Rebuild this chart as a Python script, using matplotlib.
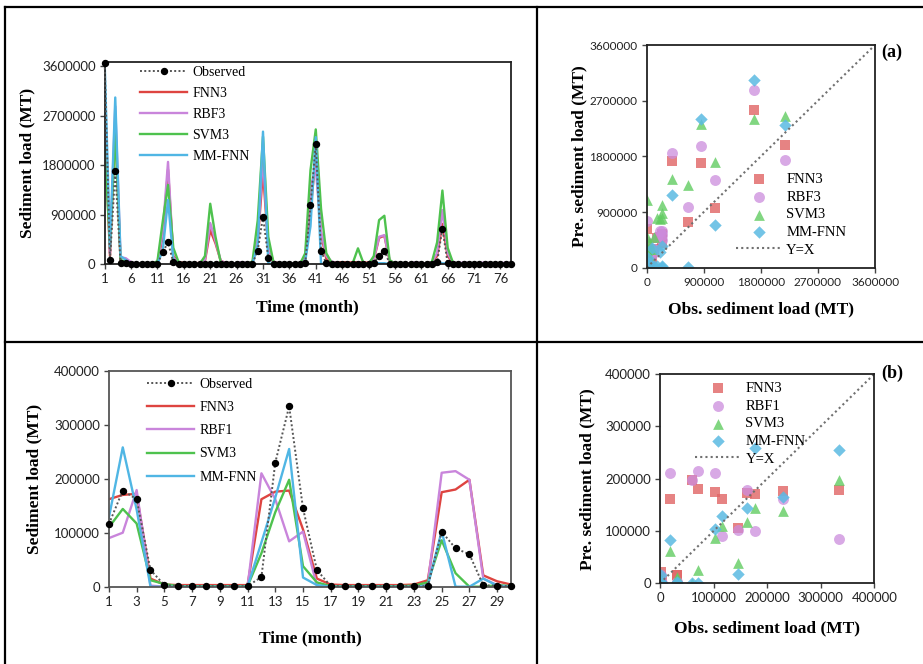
import matplotlib
matplotlib.use('Agg')
import matplotlib.pyplot as plt
from matplotlib.lines import Line2D
import numpy as np

plt.rcParams['font.family'] = ['Lato', 'DejaVu Sans']
serif = 'Liberation Serif'

# ---- data: training period (78 months) ----
months_a = np.arange(1, 79)
obs_a = [3650000, 80000, 1690000, 20000, 15000, 8000, 6000, 5000, 5000, 6000,
         10000, 217000, 399000, 36000, 12000, 8000, 6000, 5000, 5000, 4000,
         3000, 6000, 8000, 5000, 5000, 4000, 5000, 6000, 10000, 248000,
         864000, 121000, 12000, 8000, 6000, 5000, 5000, 6000, 20000, 1075000,
         2180000, 248000, 15000, 8000, 6000, 5000, 5000, 4000, 5000, 5000,
         6000, 20000, 157000, 248000, 12000, 8000, 6000, 5000, 5000, 5000,
         5000, 6000, 8000, 40000, 650000, 15000, 8000, 6000, 5000, 5000,
         5000, 5000, 5000, 5000, 5000, 5000, 5000, 5000]
fnn_a = [2550000, 150000, 2550000, 60000, 30000, 15000, 15000, 15000, 15000, 15000,
         30000, 500000, 1720000, 150000, 40000, 25000, 20000, 20000, 25000, 60000,
         620000, 380000, 60000, 25000, 20000, 20000, 20000, 20000, 30000, 400000,
         1690000, 300000, 40000, 20000, 20000, 20000, 20000, 20000, 80000, 970000,
         1980000, 550000, 100000, 40000, 35000, 35000, 35000, 35000, 35000, 35000,
         30000, 80000, 480000, 520000, 60000, 20000, 20000, 20000, 20000, 20000,
         20000, 20000, 40000, 150000, 733000, 150000, 30000, 15000, 15000, 15000,
         15000, 15000, 15000, 15000, 15000, 15000, 15000, 15000]
rbf_a = [3100000, 200000, 2870000, 130000, 110000, 40000, 10000, 10000, 10000, 10000,
         30000, 600000, 1860000, 120000, 30000, 15000, 15000, 15000, 15000, 80000,
         750000, 420000, 60000, 20000, 20000, 20000, 40000, 20000, 20000, 450000,
         1960000, 300000, 40000, 15000, 15000, 15000, 15000, 15000, 100000, 1410000,
         1740000, 600000, 150000, 50000, 20000, 20000, 20000, 20000, 20000, 20000,
         20000, 100000, 500000, 530000, 70000, 15000, 15000, 15000, 15000, 40000,
         15000, 15000, 40000, 200000, 986000, 200000, 30000, 15000, 35000, 20000,
         20000, 20000, 35000, 20000, 20000, 20000, 30000, 20000]
svm_a = [2160000, 300000, 2410000, 80000, 40000, 5000, 5000, 5000, 5000, 5000,
         60000, 780000, 1440000, 300000, 40000, 5000, 5000, 5000, 5000, 150000,
         1100000, 500000, 30000, 5000, 5000, 5000, 5000, 5000, 50000, 800000,
         2320000, 500000, 30000, 5000, 5000, 5000, 5000, 5000, 200000, 1710000,
         2450000, 1010000, 200000, 30000, 5000, 5000, 5000, 20000, 290000, 30000,
         5000, 150000, 803000, 882000, 80000, 5000, 5000, 5000, 5000, 5000,
         5000, 5000, 40000, 400000, 1340000, 300000, 30000, 5000, 5000, 5000,
         5000, 5000, 5000, 5000, 5000, 5000, 5000, 5000]
mm_a = [3650000, 320000, 3030000, 150000, 80000, 5000, 5000, 5000, 5000, 5000,
        10000, 250000, 1170000, 80000, 5000, 5000, 5000, 5000, 5000, 10000,
        20000, 10000, 20000, 5000, 5000, 5000, 5000, 5000, 10000, 350000,
        2410000, 20000, 5000, 5000, 5000, 5000, 5000, 5000, 50000, 690000,
        2310000, 10000, 5000, 5000, 5000, 5000, 5000, 5000, 5000, 5000,
        5000, 30000, 20000, 20000, 5000, 5000, 5000, 5000, 5000, 5000,
        5000, 5000, 20000, 60000, 16000, 20000, 5000, 5000, 5000, 5000,
        5000, 5000, 5000, 5000, 5000, 5000, 5000, 5000]

# ---- data: testing period (30 months) ----
months_b = np.arange(1, 31)
obs_b = [116000, 178000, 162000, 31000, 3000, 1500, 1000, 1000, 1000, 1000,
         1000, 18000, 230000, 334000, 145000, 31000, 1000, 1000, 1000, 1000,
         1000, 1000, 1000, 1000, 102000, 71000, 60000, 2500, 2000, 500]
fnn_b = [162000, 170000, 172000, 15000, 4000, 3000, 3000, 3000, 3000, 3000,
         3000, 162000, 176000, 178000, 106000, 15000, 4000, 3000, 3000, 3000,
         3000, 3000, 4000, 12000, 175000, 180000, 198000, 21000, 10000, 4000]
rbf_b = [90000, 100000, 179000, 2000, 0, 0, 0, 0, 0, 0,
         0, 210000, 162000, 84000, 102000, 2000, 0, 0, 0, 0,
         0, 0, 0, 5000, 211000, 214000, 198000, 15000, 3000, 0]
svm_b = [110000, 144000, 117000, 12000, 5000, 1000, 1000, 1000, 1000, 1000,
         1000, 62000, 138000, 198000, 38000, 8000, 1000, 1000, 1000, 1000,
         1000, 1000, 2000, 8000, 86000, 25000, 0, 0, 3000, 1000]
mm_b = [128000, 258000, 143000, 0, 0, 0, 0, 0, 0, 0,
        0, 82000, 165000, 255000, 17000, 3000, 0, 0, 0, 0,
        0, 0, 0, 2000, 103000, 0, 0, 15000, 2000, 0]

yticks_a = [0, 900000, 1800000, 2700000, 3600000]
yticks_b = [0, 100000, 200000, 300000, 400000]
xticks_a = list(range(1, 78, 5))
xticks_b = list(range(1, 30, 2))

c_fnn = '#DE4440'
c_rbf = '#C985DB'
c_svm = '#4EC24E'
c_mm = '#50B6E4'
s_fnn = '#E06464'
s_rbf = '#CC8CDD'
s_svm = '#62CC62'
s_mm = '#5ABAE2'

W, H = 923, 664
fig = plt.figure(figsize=(W / 100, H / 100), dpi=100)


def fx(px):
    return px / W


def fy(py):
    return 1 - py / H


def box(ax, color='#222222'):
    for sp in ax.spines.values():
        sp.set_color(color)
        sp.set_linewidth(1.3)
    ax.tick_params(direction='out', length=3.5, width=1, colors='#444444',
                   labelcolor='#222222', labelsize=9.5, pad=3)


def line_panel(ax, m, obs, fnn, rbf, svm, mm, rbf_name):
    h_f, = ax.plot(m, fnn, color=c_fnn, lw=1.7)
    h_r, = ax.plot(m, rbf, color=c_rbf, lw=1.7)
    h_s, = ax.plot(m, svm, color=c_svm, lw=1.7)
    h_m, = ax.plot(m, mm, color=c_mm, lw=1.7)
    h_o, = ax.plot(m, obs, ls=(0, (1, 1.2)), color='#555555', lw=1.4,
                   marker='o', ms=4.3, mfc='black', mec='black', zorder=5,
                   clip_on=False)
    return [h_o, h_f, h_r, h_s, h_m], ['Observed', 'FNN3', rbf_name, 'SVM3', 'MM-FNN']


# ---- top-left: time series (training) ----
ax1 = fig.add_axes([fx(104.7), fy(264.3), fx(511 - 104.7), (264.3 - 61.7) / H])
hs, labs = line_panel(ax1, months_a, obs_a, fnn_a, rbf_a, svm_a, mm_a, 'RBF3')
ax1.set_xlim(1, 78)
ax1.set_ylim(0, 3.68e6)
ax1.set_yticks(yticks_a)
ax1.set_yticklabels([str(v) for v in yticks_a])
ax1.set_xticks(xticks_a)
box(ax1)
ax1.set_xlabel('Time (month)', family=serif, fontsize=12.5, fontweight='bold')
ax1.set_ylabel('Sediment load (MT)', family=serif, fontsize=12.5, fontweight='bold')
ax1.xaxis.set_label_coords(0.5, -0.175)
ax1.yaxis.set_label_coords(-0.17, 0.5)
ax1.legend(hs, labs, loc='upper left', bbox_to_anchor=(fx(140), fy(66)),
           bbox_transform=fig.transFigure, frameon=False,
           prop={'family': serif, 'size': 10}, handlelength=3.4,
           handletextpad=0.35, labelspacing=0.57, borderpad=0, borderaxespad=0)

# ---- bottom-left: time series (testing) ----
ax2 = fig.add_axes([fx(108.9), fy(586.7), fx(511 - 108.9), (586.7 - 370.7) / H])
hs, labs = line_panel(ax2, months_b, obs_b, fnn_b, rbf_b, svm_b, mm_b, 'RBF1')
ax2.set_xlim(1, 30)
ax2.set_ylim(0, 400000)
ax2.set_yticks(yticks_b)
ax2.set_yticklabels([str(v) for v in yticks_b])
ax2.set_xticks(xticks_b)
box(ax2, '#555555')
ax2.set_xlabel('Time (month)', family=serif, fontsize=12.5, fontweight='bold')
ax2.set_ylabel('Sediment load (MT)', family=serif, fontsize=12.5, fontweight='bold')
ax2.xaxis.set_label_coords(0.5, -0.2)
ax2.yaxis.set_label_coords(-0.165, 0.5)
ax2.legend(hs, labs, loc='upper left', bbox_to_anchor=(fx(147), fy(378)),
           bbox_transform=fig.transFigure, frameon=False,
           prop={'family': serif, 'size': 10}, handlelength=3.4,
           handletextpad=0.35, labelspacing=0.73, borderpad=0, borderaxespad=0)


def scatter_panel(ax, obs, fnn, rbf, svm, mm, rbf_name, lim):
    # months whose observed load lies beyond the axis range are not shown
    keep = np.array(obs) <= lim
    o = np.array(obs)[keep]
    h1 = ax.scatter(o, np.array(fnn)[keep], marker='s', s=50, color=s_fnn, alpha=0.8, lw=0, label='FNN3')
    h2 = ax.scatter(o, np.array(rbf)[keep], marker='o', s=62, color=s_rbf, alpha=0.75, lw=0, label=rbf_name)
    h3 = ax.scatter(o, np.array(svm)[keep], marker='^', s=60, color=s_svm, alpha=0.8, lw=0, label='SVM3')
    h4 = ax.scatter(o, np.array(mm)[keep], marker='D', s=40, color=s_mm, alpha=0.85, lw=0, label='MM-FNN')
    h5, = ax.plot([0, lim], [0, lim], ls=(0, (1, 1.5)), color='#707070', lw=1.5, label='Y=X')
    ax.set_xlim(0, lim)
    ax.set_ylim(0, lim)
    return [h1, h2, h3, h4, h5]


# ---- top-right: scatter (training) ----
ax3 = fig.add_axes([fx(646.7), fy(267.7), fx(875 - 646.7), (267.7 - 45) / H])
hs = scatter_panel(ax3, obs_a, fnn_a, rbf_a, svm_a, mm_a, 'RBF3', 3600000)
ax3.set_xticks(yticks_a)
ax3.set_xticklabels([str(v) for v in yticks_a])
ax3.set_yticks(yticks_a)
ax3.set_yticklabels([str(v) for v in yticks_a])
box(ax3)
ax3.tick_params(labelsize=8.5)
ax3.set_xlabel('Obs. sediment load (MT)', family=serif, fontsize=12.5, fontweight='bold')
ax3.set_ylabel('Pre. sediment load (MT)', family=serif, fontsize=12.5, fontweight='bold')
ax3.xaxis.set_label_coords(0.5, -0.15)
ax3.yaxis.set_label_coords(-0.26, 0.5)
ax3.legend(handles=hs, loc='upper left', bbox_to_anchor=(fx(736), fy(173)),
           bbox_transform=fig.transFigure, frameon=False, scatterpoints=1,
           prop={'family': serif, 'size': 10.5}, handlelength=3.1,
           handletextpad=0.35, labelspacing=0.3, borderpad=0, borderaxespad=0)
fig.text(fx(881), fy(52), '(a)', family=serif, fontsize=13, fontweight='bold', va='center')

# ---- bottom-right: scatter (testing) ----
ax4 = fig.add_axes([fx(660), fy(583.3), fx(874.3 - 660), (583.3 - 374) / H])
hs = scatter_panel(ax4, obs_b, fnn_b, rbf_b, svm_b, mm_b, 'RBF1', 400000)
ax4.set_xticks(yticks_b)
ax4.set_xticklabels([str(v) for v in yticks_b])
ax4.set_yticks(yticks_b)
ax4.set_yticklabels([str(v) for v in yticks_b])
box(ax4)
ax4.set_xlabel('Obs. sediment load (MT)', family=serif, fontsize=12.5, fontweight='bold')
ax4.set_ylabel('Pre. sediment load (MT)', family=serif, fontsize=12.5, fontweight='bold')
ax4.xaxis.set_label_coords(0.5, -0.175)
ax4.yaxis.set_label_coords(-0.3, 0.5)
ax4.legend(handles=hs, loc='upper left', bbox_to_anchor=(fx(695), fy(382)),
           bbox_transform=fig.transFigure, frameon=False, scatterpoints=1,
           prop={'family': serif, 'size': 10.5}, handlelength=3.1,
           handletextpad=0.35, labelspacing=0.3, borderpad=0, borderaxespad=0)
fig.text(fx(881), fy(373), '(b)', family=serif, fontsize=13, fontweight='bold', va='center')

# ---- table borders ----
for xs, ys in [((fx(5), 1), (fy(7), fy(7))),
               ((fx(5), fx(5)), (fy(7), 0)),
               ((fx(537), fx(537)), (fy(7), 0)),
               ((fx(5), 1), (fy(342), fy(342)))]:
    fig.add_artist(Line2D(xs, ys, transform=fig.transFigure, color='black', lw=1.6))

fig.savefig('out.png', dpi=100)
